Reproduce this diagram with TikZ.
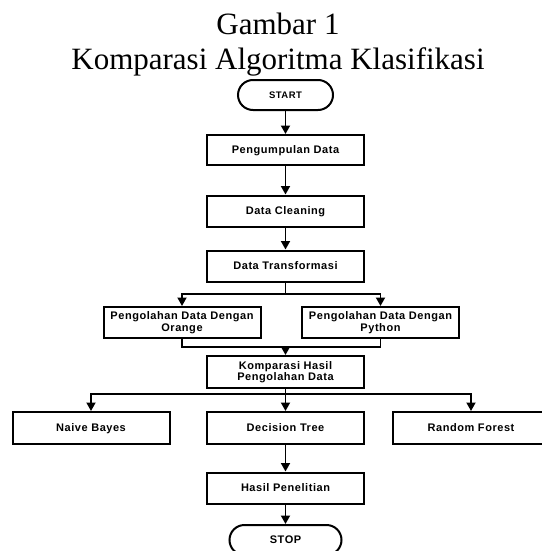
\documentclass[tikz,border=0pt]{standalone}
\usepackage{fontspec}
\setmainfont{Liberation Serif}
\newfontfamily\boxfont{Liberation Sans}[LetterSpace=5]
\usetikzlibrary{arrows.meta}
\begin{document}
\begin{tikzpicture}[x=1pt,y=-1pt,
  box/.style={draw, line width=2pt, minimum width=157pt, minimum height=31pt, inner sep=0pt, align=center,
    font=\boxfont\bfseries\fontsize{11}{11.5}\selectfont},
  one/.style={text height=8pt, text depth=1pt},
  term/.style={box, one, rounded corners=15pt, minimum height=30pt},
  arr/.style={line width=1.8pt, -{Triangle[length=8.5pt,width=9pt]}},
  ln/.style={line width=1.8pt},
  ttl/.style={font=\fontsize{31}{35}\selectfont, anchor=base, inner sep=0pt}]
\useasboundingbox (0,0) rectangle (541,551);
\node[ttl] (t1) at (278,35) {Gambar 1};
\node[ttl] (t2) at (278,70) {Komparasi Algoritma Klasifikasi};
\node[term, minimum width=95pt, font=\boxfont\bfseries\fontsize{9.5}{11}\selectfont] (start) at (285.5,95) {START};
\node[box, one, minimum height=30pt] (p1) at (285.5,150) {Pengumpulan Data};
\node[box, one] (p2) at (285.5,211) {Data Cleaning};
\node[box, one] (p3) at (285.5,266) {Data Transformasi};
\node[box] (or) at (182,322.5) {Pengolahan Data Dengan\\Orange};
\node[box] (py) at (380.5,322.5) {Pengolahan Data Dengan\\Python};
\node[box, minimum height=32pt] (ko) at (285.5,372) {Komparasi Hasil\\Pengolahan Data};
\node[box, one, minimum height=32pt] (nb) at (91,428) {Naive Bayes};
\node[box, one, minimum height=32pt] (dt) at (285.5,428) {Decision Tree};
\node[box, one, minimum height=32pt] (rf) at (471,428) {Random Forest};
\node[box, one] (hp) at (285.5,488) {Hasil Penelitian};
\node[term, minimum width=112pt] (stop) at (285.5,540) {STOP};
\draw[arr] (start) -- (p1);
\draw[arr] (p1) -- (p2);
\draw[arr] (p2) -- (p3);
\coordinate (b1) at (285.5,294);
\draw[ln] (p3.south) -- (b1);
\draw[arr] (b1) -| (or.north);
\draw[arr] (b1) -| (py.north);
\coordinate (m1) at (285.5,347);
\draw[ln] (or.south) |- (m1) -| (py.south);
\draw[arr] (m1) -- (ko);
\coordinate (b2) at (285.5,394);
\draw[ln] (ko.south) -- (b2);
\draw[arr] (b2) -| (nb.north);
\draw[arr] (b2) -| (rf.north);
\draw[arr] (b2) -- (dt.north);
\draw[arr] (dt) -- (hp);
\draw[arr] (hp) -- (stop);
\end{tikzpicture}
\end{document}
